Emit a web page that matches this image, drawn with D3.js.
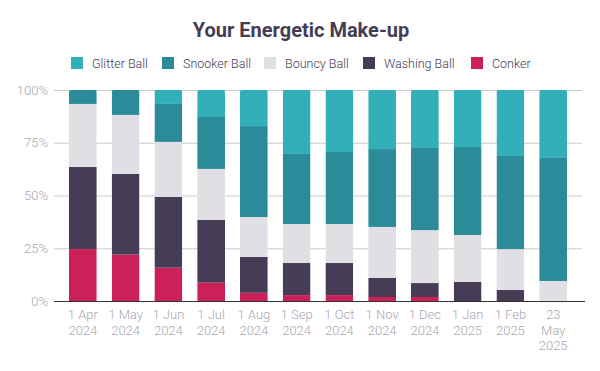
<!DOCTYPE html>
<html>
<head>
<meta charset="utf-8">
<script src="https://cdn.jsdelivr.net/npm/d3@7"></script>
<style>
  body { margin: 0; background: #fff; }
  text { font-family: Roboto, "Noto Sans", sans-serif; }
</style>
</head>
<body>
<script>
// categories (x axis tick labels)
var dates = ["1 Apr 2024", "1 May 2024", "1 Jun 2024", "1 Jul 2024", "1 Aug 2024", "1 Sep 2024",
    "1 Oct 2024", "1 Nov 2024", "1 Dec 2024", "1 Jan 2025", "1 Feb 2025", "23 May 2025"];

// series, bottom to top, values in percent
var conker      = [24.6, 22.0, 15.8,  8.7,  3.9,  2.8,  2.8,  1.9,  1.9,  0.0,  0.0,  0.0];
var washingBall = [38.9, 38.2, 33.5, 29.7, 17.0, 15.2, 15.2,  9.0,  6.6,  9.0,  5.2,  0.0];
var bouncyBall  = [29.9, 28.0, 26.1, 24.2, 18.9, 18.5, 18.5, 24.2, 25.1, 22.3, 19.4,  9.5];
var snookerBall = [ 6.6, 11.8, 18.0, 24.6, 43.1, 33.2, 34.1, 36.9, 38.9, 41.7, 44.1, 58.3];
var glitterBall = [ 0.0,  0.0,  6.6, 12.8, 17.1, 30.3, 29.4, 28.0, 27.5, 27.0, 31.3, 32.2];

var yTicks = [0, 0.25, 0.5, 0.75, 1];

var series = [
    { name: "Glitter Ball", values: glitterBall, color: "#33afba" },
    { name: "Snooker Ball", values: snookerBall, color: "#2b8b99" },
    { name: "Bouncy Ball", values: bouncyBall, color: "#e0dfe4" },
    { name: "Washing Ball", values: washingBall, color: "#463c55" },
    { name: "Conker", values: conker, color: "#cc2158" }
];
var stackKeys = series.map(function (s) { return s.name; }).reverse();
var colorOf = {};
series.forEach(function (s) { colorOf[s.name] = s.color; });

// one row per date for d3.stack
var rows = dates.map(function (d, i) {
    var row = { date: d };
    series.forEach(function (s) { row[s.name] = s.values[i]; });
    return row;
});

var width = 600, height = 371;
var margin = { top: 90, right: 18, bottom: 70, left: 54 };

var svg = d3.select("body").append("svg")
    .attr("width", width)
    .attr("height", height);

var x = d3.scaleBand()
    .domain(dates)
    .range([margin.left, width - margin.right])
    .paddingInner(0.35)
    .paddingOuter(0.35);

var y = d3.scaleLinear()
    .domain([0, 1])
    .range([height - margin.bottom, margin.top]);

var stack = d3.stack()
    .keys(stackKeys)
    .offset(d3.stackOffsetExpand);
var layers = stack(rows);

// title
svg.append("text")
    .attr("x", 301)
    .attr("y", 37)
    .attr("text-anchor", "middle")
    .attr("font-size", 20)
    .attr("font-weight", "bold")
    .attr("fill", "#463c55")
    .text("Your Energetic Make-up");

// legend
var legendX = [71, 162, 264, 363, 471];
var legend = svg.append("g").selectAll("g")
    .data(series)
    .enter().append("g")
    .attr("transform", function (d, i) { return "translate(" + legendX[i] + ",57)"; });
legend.append("rect")
    .attr("width", 12)
    .attr("height", 12)
    .attr("fill", function (d) { return d.color; });
legend.append("text")
    .attr("x", 21)
    .attr("y", 10.5)
    .attr("font-size", 12.5)
    .attr("font-weight", 300)
    .attr("fill", "#463c55")
    .text(function (d) { return d.name; });

// grid lines + y labels
var yAxis = svg.append("g")
    .attr("transform", "translate(" + margin.left + ",0)")
    .call(d3.axisLeft(y)
        .tickValues(yTicks)
        .tickFormat(d3.format(".0%"))
        .tickSize(-(width - margin.left - margin.right))
        .tickPadding(6));
yAxis.select(".domain").remove();
yAxis.selectAll(".tick line").attr("stroke", "#cccccc");
yAxis.selectAll(".tick text")
    .attr("font-family", "Roboto, sans-serif")
    .attr("font-size", 13)
    .attr("font-weight", 300)
    .attr("fill", "#a9a6b1");

// clip each column so the top corners are a little rounded
var defs = svg.append("defs");
dates.forEach(function (d, i) {
    defs.append("clipPath")
        .attr("id", "col" + i)
        .append("rect")
        .attr("x", x(d))
        .attr("y", y(1))
        .attr("width", x.bandwidth())
        .attr("height", y(0) - y(1) + 6)
        .attr("rx", 2);
});

// bars
svg.append("g").selectAll("g")
    .data(layers)
    .enter().append("g")
    .attr("fill", function (d) { return colorOf[d.key]; })
    .selectAll("rect")
    .data(function (d) { return d; })
    .enter().append("rect")
    .attr("clip-path", function (d, i) { return "url(#col" + i + ")"; })
    .attr("x", function (d) { return x(d.data.date); })
    .attr("y", function (d) { return y(d[1]); })
    .attr("width", x.bandwidth())
    .attr("height", function (d) { return y(d[0]) - y(d[1]); });

// x axis
var xAxis = svg.append("g")
    .attr("transform", "translate(0," + y(0) + ")")
    .call(d3.axisBottom(x).tickSize(0).tickPadding(9));
xAxis.select(".domain")
    .attr("stroke", "#333333")
    .attr("d", "M" + margin.left + ",0.5H" + (width - margin.right + 3));
xAxis.selectAll(".tick text")
    .attr("font-family", "Roboto, sans-serif")
    .attr("font-size", 13)
    .attr("font-weight", 300)
    .attr("fill", "#a9a6b1")
    .call(wrap, 40);

// wrap tick labels word by word
function wrap(texts, maxWidth) {
    texts.each(function () {
        var text = d3.select(this);
        var words = text.text().split(" ");
        var yPos = text.attr("y");
        var lines = [];
        var line = [];
        text.text(null);
        var tspan = text.append("tspan");
        words.forEach(function (w) {
            line.push(w);
            tspan.text(line.join(" "));
            if (tspan.node().getComputedTextLength() > maxWidth && line.length > 1) {
                line.pop();
                lines.push(line.join(" "));
                line = [w];
            }
        });
        lines.push(line.join(" "));
        text.text(null);
        lines.forEach(function (l, k) {
            text.append("tspan")
                .attr("x", 0)
                .attr("y", yPos)
                .attr("dy", (0.71 + k * 1.2) + "em")
                .text(l);
        });
    });
}
</script>
</body>
</html>
